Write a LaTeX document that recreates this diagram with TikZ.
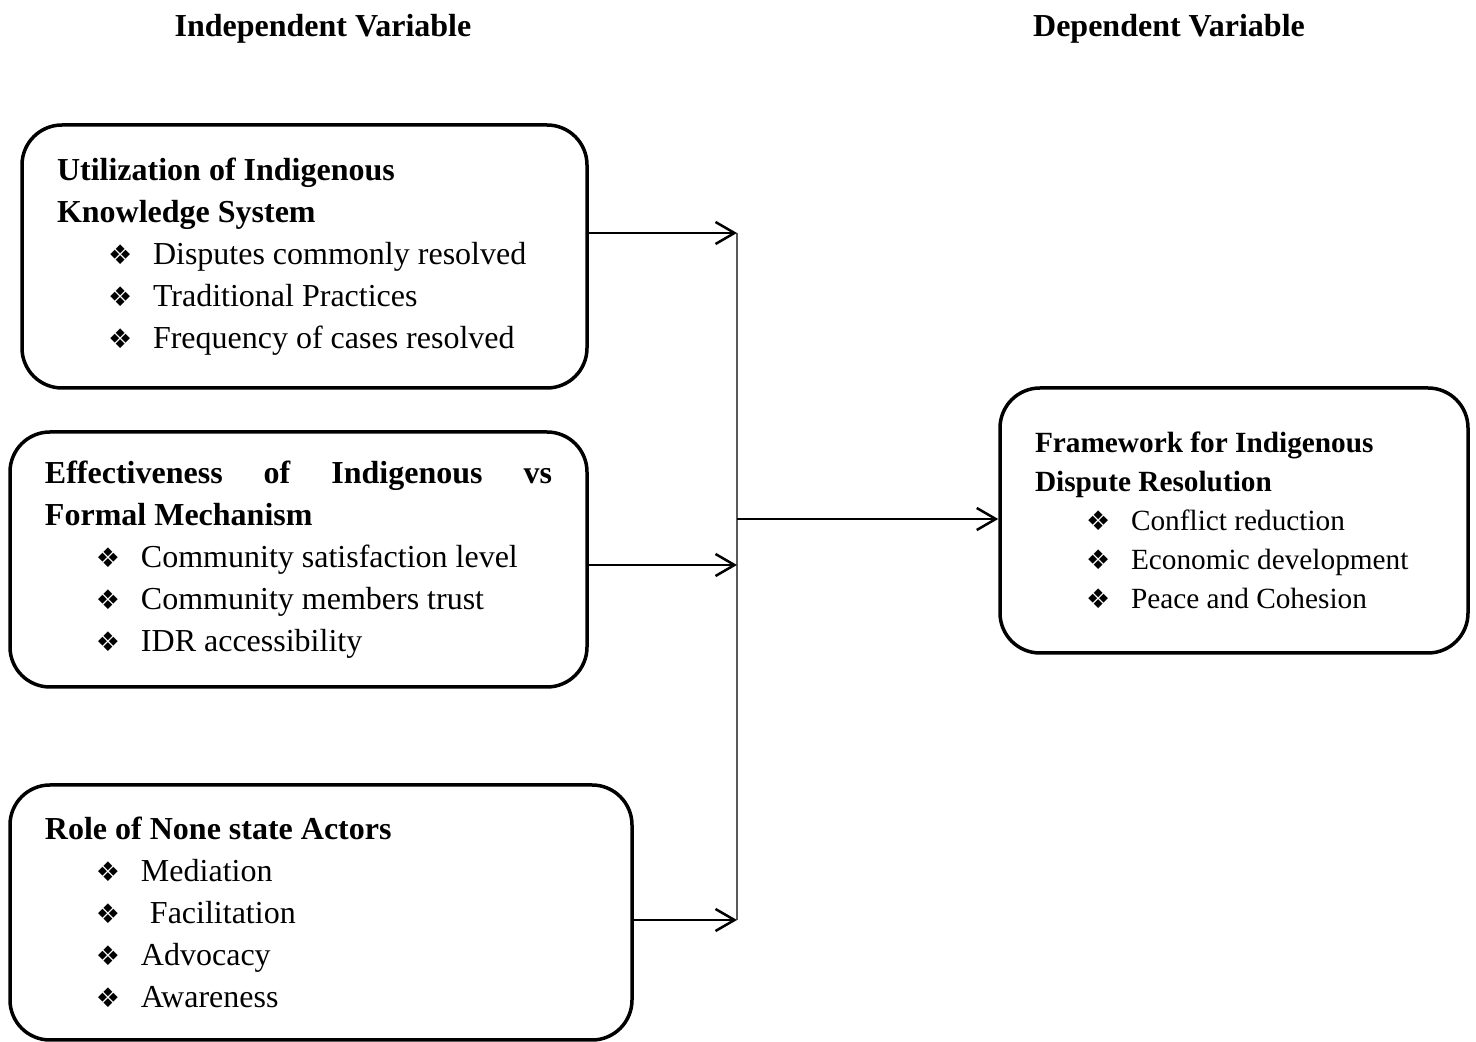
\documentclass[tikz,border=0pt]{standalone}
\usepackage{fontspec}
\setmainfont{Liberation Serif}
\newfontfamily\dingfont{DejaVu Sans}
\usetikzlibrary{arrows.meta}

\newcommand{\itm}[1]{\hspace*{51pt}\makebox[45pt][l]{\dingfont\fontsize{27}{27}\selectfont ❖}#1}

\begin{document}
\begin{tikzpicture}[x=1pt,y=1pt,
    box/.style={
% The shape:
rectangle,
rounded corners=40pt,
% The border:
line width=3.5pt, draw,
% The text:
inner xsep=35pt,
inner ysep=0pt,
align=flush left,
font=\fontsize{32}{42}\selectfont
},
    title/.style={font=\fontsize{32}{38}\selectfont\bfseries},
    link/.style={-{Straight Barb[length=19pt,width=22pt]}, line width=2.5pt},
    bus/.style={line width=1.7pt, draw=black!65},
]
  \useasboundingbox (0,0) rectangle (1476,1042);

  \node[title]                             (IV) at (323, 1013)    {Independent Variable};
  \node[title]                             (DV) at (1169, 1013)   {Dependent Variable};

  \node[box, text width=495pt, minimum height=263pt] (UIK) at (304.5, 785.5) {%
    {\bfseries Utilization of Indigenous}\\
    {\bfseries Knowledge System}\\
    \itm{Disputes commonly resolved}\\
    \itm{Traditional Practices}\\
    \itm{Frequency of cases resolved}};
  \node[box, text width=507pt, minimum height=255pt] (EFF) at (298.5, 482.5) {%
    {\bfseries\makebox[507pt][l]{Effectiveness\hfill of\hfill Indigenous\hfill vs}}\\
    {\bfseries Formal Mechanism}\\
    \itm{Community satisfaction level}\\
    \itm{Community members trust}\\
    \itm{IDR accessibility}};
  \node[box, text width=552pt, minimum height=255pt] (ROLE) at (321, 129.5) {%
    {\bfseries Role of None state Actors}\\
    \itm{Mediation}\\
    \itm{\hspace*{9pt}Facilitation}\\
    \itm{Advocacy}\\
    \itm{Awareness}};
  \node[box, text width=398pt, minimum height=265pt,
        font=\fontsize{29.3}{39}\selectfont] (FW) at (1234, 521.5) {%
    {\bfseries Framework for Indigenous}\\
    {\bfseries Dispute Resolution}\\
    \itm{Conflict reduction}\\
    \itm{Economic development}\\
    \itm{Peace and Cohesion}};

  \coordinate (b1) at (737, 809);
  \coordinate (b2) at (737, 477);
  \coordinate (b3) at (737, 122);
  \coordinate (bm) at (737, 523);

  \draw[bus] (b1) -- (b3);
  \draw[link] (UIK.east |- b1)  -- (b1);
  \draw[link] (EFF.east |- b2)  -- (b2);
  \draw[link] (ROLE.east |- b3) -- (b3);
  \draw[link] (bm) -- (FW.west |- bm);
\end{tikzpicture}
\end{document}
